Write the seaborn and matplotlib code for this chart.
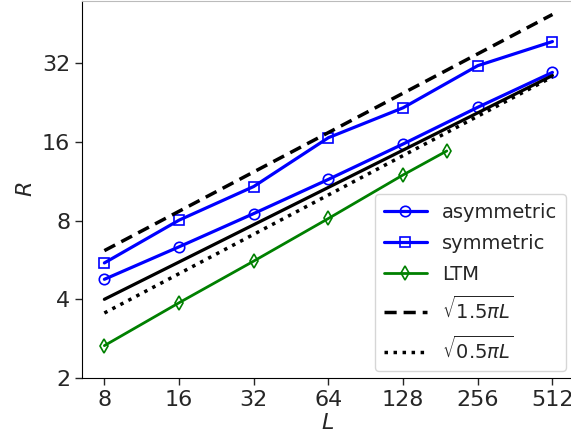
import numpy as np
import pandas as pd
import matplotlib
matplotlib.use("Agg")
import matplotlib.pyplot as plt
import seaborn as sns
from matplotlib.ticker import FixedLocator, FixedFormatter, NullLocator

# System sizes and measured radii
L_sizes = [8, 16, 32, 64, 128, 256, 512]
R_asymmetric = [4.77, 6.35, 8.51, 11.5, 15.7, 21.7, 29.5]
R_symmetric = [5.51, 8.03, 10.8, 16.6, 21.6, 31.3, 38.7]

L_ltm = [8, 16, 32, 64, 128, 192]
R_ltm = [2.66, 3.88, 5.6, 8.15, 11.96, 14.77]

# Power-law fit through the asymmetric data
L_fit = [8, 512]
R_fit = [4.0, 28.7]

# Reference curves sqrt(c * pi * L)
L_ref = [8, 512]
c_upper = 1.5
c_lower = 0.5

x_ticks = [8, 16, 32, 64, 128, 256, 512]
y_ticks = [2, 4, 8, 16, 32]

sns.set_style("ticks")
plt.rcParams["font.family"] = ["DejaVu Sans"]
plt.rcParams["mathtext.fontset"] = "dejavusans"

fig = plt.figure(figsize=(5.71, 4.44), dpi=100)
ax = fig.add_axes([0.1436, 0.1486, 0.86, 0.85])

ref_L = np.array(L_ref, dtype=float)

sns.lineplot(x=L_sizes, y=R_asymmetric, ax=ax, color="blue", lw=2.3,
             marker="o", ms=7.5, markerfacecolor="none", markeredgecolor="blue",
             markeredgewidth=1.2, label="asymmetric")
sns.lineplot(x=L_sizes, y=R_symmetric, ax=ax, color="blue", lw=2.3,
             marker="s", ms=7.5, markerfacecolor="none", markeredgecolor="blue",
             markeredgewidth=1.2, label="symmetric")
sns.lineplot(x=L_ltm, y=R_ltm, ax=ax, color="green", lw=2.0,
             marker="d", ms=7.5, markerfacecolor="none", markeredgecolor="green",
             markeredgewidth=1.2, label="LTM")
sns.lineplot(x=ref_L, y=np.sqrt(c_upper * np.pi * ref_L), ax=ax, color="black",
             lw=2.5, linestyle=(0, (3.5, 2)), label=r"$\sqrt{1.5\pi L}$")
sns.lineplot(x=ref_L, y=np.sqrt(c_lower * np.pi * ref_L), ax=ax, color="black",
             lw=2.5, linestyle=(0, (1, 1.6)), label=r"$\sqrt{0.5\pi L}$")
sns.lineplot(x=L_fit, y=R_fit, ax=ax, color="black", lw=2.3)

ax.set_xscale("log", base=2)
ax.set_yscale("log", base=2)
ax.set_xlim(6.5, 620)
ax.set_ylim(2, 55.5)

ax.xaxis.set_major_locator(FixedLocator(x_ticks))
ax.xaxis.set_major_formatter(FixedFormatter([str(t) for t in x_ticks]))
ax.xaxis.set_minor_locator(NullLocator())
ax.yaxis.set_major_locator(FixedLocator(y_ticks))
ax.yaxis.set_major_formatter(FixedFormatter([str(t) for t in y_ticks]))
ax.yaxis.set_minor_locator(NullLocator())
ax.tick_params(labelsize=16, length=5, width=1)

ax.set_xlabel(r"$L$", fontsize=16, labelpad=2)
ax.set_ylabel(r"$R$", fontsize=16, labelpad=4)

for s in ax.spines.values():
    s.set_color("black")
ax.spines["top"].set_color("#bbbbbb")

ax.legend(loc="lower right", fontsize=14, handlelength=2.2,
          borderaxespad=0.35, frameon=True, labelspacing=0.62,
          handletextpad=0.8, borderpad=0.45)

fig.savefig("out.png", dpi=100)
